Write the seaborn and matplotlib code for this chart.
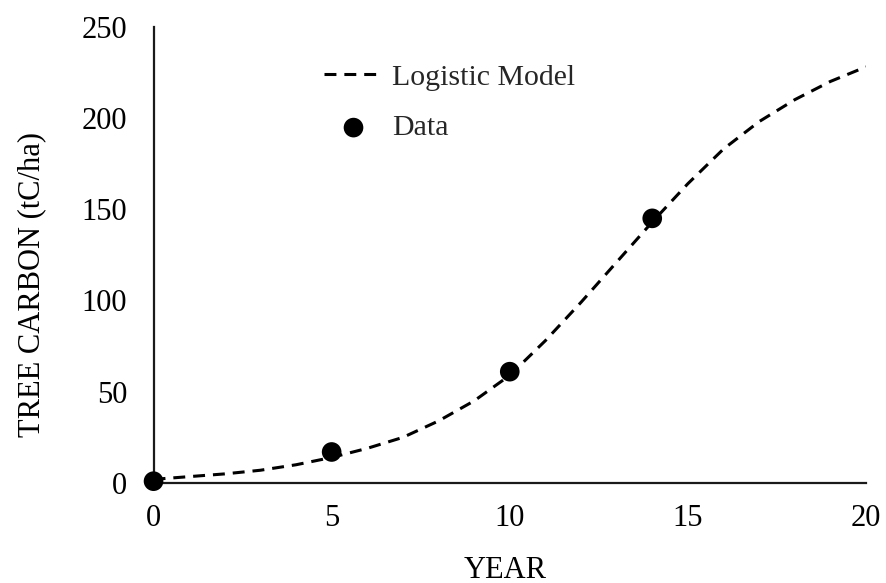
import matplotlib
matplotlib.use("Agg")
import matplotlib.pyplot as plt
import seaborn as sns
import pandas as pd

# Logistic model curve
model_years = [0, 1, 2, 3, 4, 5, 6, 7, 8, 9, 10, 11, 12, 13, 14, 15, 16, 17, 18, 19, 20]
model_carbon = [2, 3.5, 5, 7, 10, 14, 19, 25, 34, 45, 59, 78, 99, 121, 143, 164, 183, 198, 210, 220, 228]

# Observed data
data_years = [0, 5, 10, 14]
data_carbon = [1, 17, 61, 145]

x_ticks = [0, 5, 10, 15, 20]
y_ticks = [0, 50, 100, 150, 200, 250]

sns.set_theme(style="white")
plt.rcParams['font.family'] = ['Liberation Serif', 'DejaVu Serif']

fig = plt.figure(figsize=(8.86, 5.83), dpi=100)
ax = fig.add_axes([0.1733, 0.1715, 0.9774 - 0.1733, 0.9542 - 0.1715])

model_df = pd.DataFrame({"year": model_years, "carbon": model_carbon})
data_df = pd.DataFrame({"year": data_years, "carbon": data_carbon})

sns.lineplot(data=model_df, x="year", y="carbon", ax=ax, color="black",
             linewidth=2.2, linestyle=(0, (3.9, 2.6)), label="Logistic Model")
sns.scatterplot(data=data_df, x="year", y="carbon", ax=ax, color="black",
                s=200, edgecolor="none", label="Data", zorder=5, clip_on=False)

ax.set_xlim(0, 20)
ax.set_ylim(0, 250)
ax.set_xticks(x_ticks)
ax.set_yticks(y_ticks)
ax.tick_params(axis="both", length=0, labelsize=22, colors="black")
ax.tick_params(axis="x", pad=15)
ax.tick_params(axis="y", pad=19)

for side in ["top", "right"]:
    ax.spines[side].set_visible(False)
for side in ["left", "bottom"]:
    ax.spines[side].set_color("#1a1a1a")
    ax.spines[side].set_linewidth(1.6)

ax.set_xlabel("YEAR", fontsize=22, color="black")
ax.set_ylabel("TREE CARBON (tC/ha)", fontsize=22, color="black")
ax.xaxis.set_label_coords(0.493, -0.159)
ax.yaxis.set_label_coords(-0.151, 0.434)

ax.legend(loc="upper left", bbox_to_anchor=(0.222, 0.945), frameon=False,
          fontsize=21.5, handlelength=2.0, handletextpad=0.3, labelspacing=0.8,
          borderaxespad=0)

fig.savefig("out.png", dpi=100)
